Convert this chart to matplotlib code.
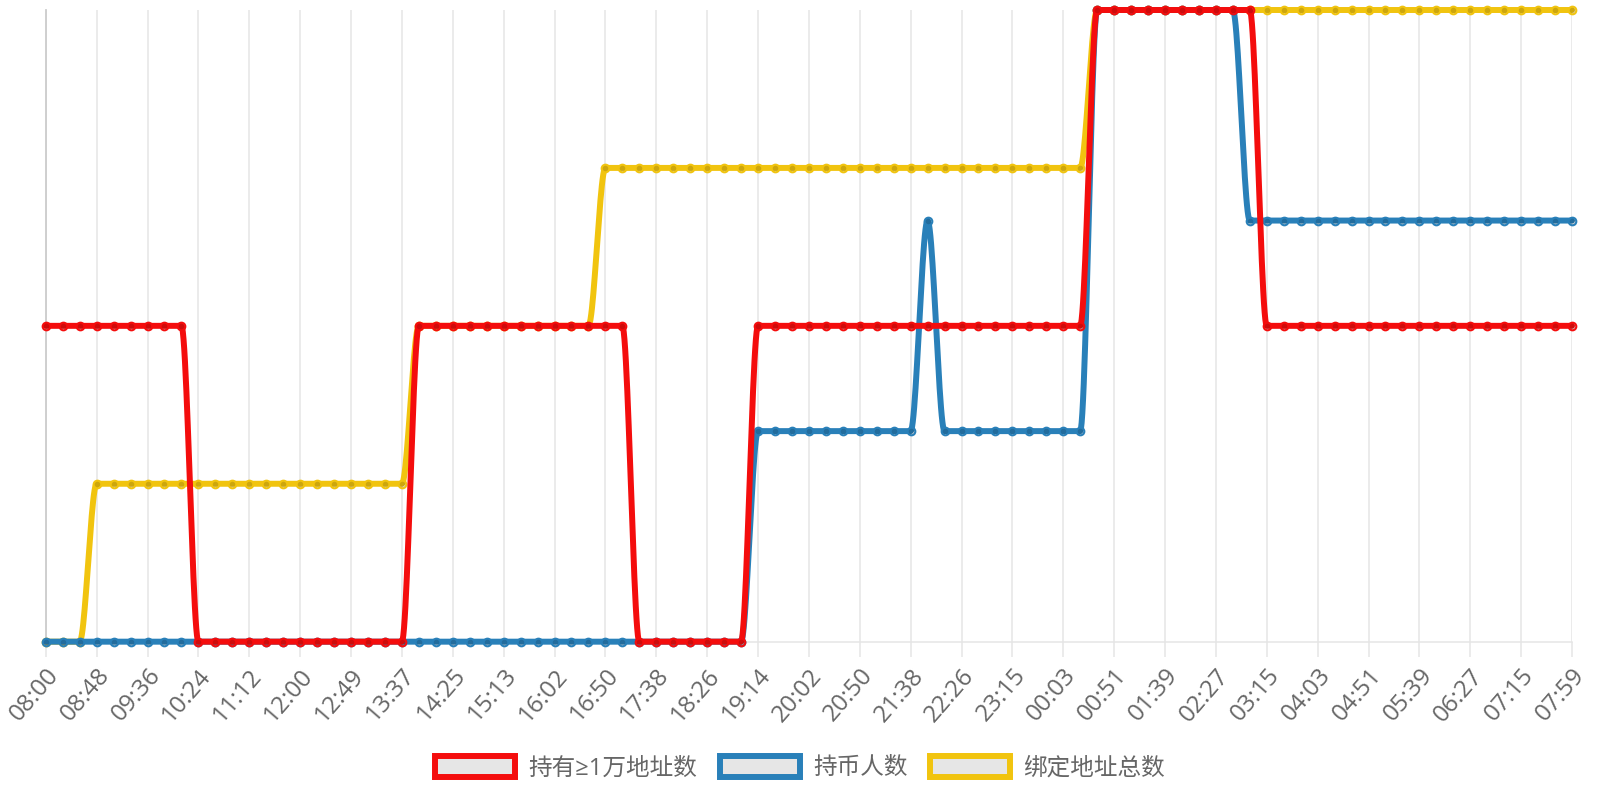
import numpy as np
import matplotlib
matplotlib.use('Agg')
import matplotlib.pyplot as plt
from matplotlib.patches import Patch

# x axis: one point every ~16 min, a label every 3rd point
tick_labels = ['08:00', '08:48', '09:36', '10:24', '11:12', '12:00', '12:49', '13:37',
               '14:25', '15:13', '16:02', '16:50', '17:38', '18:26', '19:14', '20:02',
               '20:50', '21:38', '22:26', '23:15', '00:03', '00:51', '01:39', '02:27',
               '03:15', '04:03', '04:51', '05:39', '06:27', '07:15', '07:59']

names = ['持有≥1万地址数', '持币人数', '绑定地址总数']
colors = ['#f40d0d', '#2980b9', '#f1c40f']

red_vals = [1, 1, 1, 1, 1, 1, 1, 1, 1, 0,
            0, 0, 0, 0, 0, 0, 0, 0, 0, 0,
            0, 0, 1, 1, 1, 1, 1, 1, 1, 1,
            1, 1, 1, 1, 1, 0, 0, 0, 0, 0,
            0, 0, 1, 1, 1, 1, 1, 1, 1, 1,
            1, 1, 1, 1, 1, 1, 1, 1, 1, 1,
            1, 1, 2, 2, 2, 2, 2, 2, 2, 2,
            2, 2, 1, 1, 1, 1, 1, 1, 1, 1,
            1, 1, 1, 1, 1, 1, 1, 1, 1, 1,
            1]

blue_vals = [0, 0, 0, 0, 0, 0, 0, 0, 0, 0,
             0, 0, 0, 0, 0, 0, 0, 0, 0, 0,
             0, 0, 0, 0, 0, 0, 0, 0, 0, 0,
             0, 0, 0, 0, 0, 0, 0, 0, 0, 0,
             0, 0, 1, 1, 1, 1, 1, 1, 1, 1,
             1, 1, 2, 1, 1, 1, 1, 1, 1, 1,
             1, 1, 3, 3, 3, 3, 3, 3, 3, 3,
             3, 2, 2, 2, 2, 2, 2, 2, 2, 2,
             2, 2, 2, 2, 2, 2, 2, 2, 2, 2,
             2]

yellow_vals = [0, 0, 0, 1, 1, 1, 1, 1, 1, 1,
               1, 1, 1, 1, 1, 1, 1, 1, 1, 1,
               1, 1, 2, 2, 2, 2, 2, 2, 2, 2,
               2, 2, 2, 3, 3, 3, 3, 3, 3, 3,
               3, 3, 3, 3, 3, 3, 3, 3, 3, 3,
               3, 3, 3, 3, 3, 3, 3, 3, 3, 3,
               3, 3, 4, 4, 4, 4, 4, 4, 4, 4,
               4, 4, 4, 4, 4, 4, 4, 4, 4, 4,
               4, 4, 4, 4, 4, 4, 4, 4, 4, 4,
               4]

# each series sits on its own hidden y scale
y_max = [2, 3, 4]


def monotone_curve(y, n_sub=24):
    """Monotone cubic (Fritsch-Carlson) through equally spaced points."""
    y = np.asarray(y, float)
    n = len(y)
    d = np.diff(y)
    m = np.zeros(n)
    m[0], m[-1] = d[0], d[-1]
    for i in range(1, n - 1):
        if d[i - 1] * d[i] > 0:
            m[i] = (d[i - 1] + d[i]) / 2
    for i in range(n - 1):
        if d[i] == 0:
            m[i] = m[i + 1] = 0
            continue
        a, b = m[i] / d[i], m[i + 1] / d[i]
        s = a * a + b * b
        if s > 9:
            t = 3 / np.sqrt(s)
            m[i], m[i + 1] = t * a * d[i], t * b * d[i]
    t = np.linspace(0, 1, n_sub, endpoint=False)
    h00 = 2 * t**3 - 3 * t**2 + 1
    h10 = t**3 - 2 * t**2 + t
    h01 = -2 * t**3 + 3 * t**2
    h11 = t**3 - t**2
    xs, ys = [], []
    for i in range(n - 1):
        xs.append(i + t)
        ys.append(h00 * y[i] + h10 * m[i] + h01 * y[i + 1] + h11 * m[i + 1])
    xs.append([n - 1])
    ys.append([y[-1]])
    return np.concatenate(xs), np.concatenate(ys)


fig = plt.figure(figsize=(16, 8), dpi=100)
ax = fig.add_axes([0.0286, 0.1979, 0.9539, 0.7896])
ax_b = ax.twinx()
ax_r = ax.twinx()

x = np.arange(len(red_vals))
tick_pos = x[::3]

# base axis: grid, ticks, labels
ax.set_xlim(0, len(red_vals) - 1)
ax.set_xticks(tick_pos)
ax.set_xticklabels(tick_labels, family='Open Sans')
ax.set_yticks([])
ax.grid(axis='x', color='#e5e5e5', linewidth=1.1)
ax.tick_params(axis='x', length=11, width=1.1, color='#e5e5e5', pad=5,
               labelsize=17.5, labelcolor='#666666')
for lbl in ax.get_xticklabels():
    lbl.set_rotation(49)
    lbl.set_ha('right')
    lbl.set_va('top')
    lbl.set_rotation_mode('anchor')
for side in ['top', 'right']:
    ax.spines[side].set_visible(False)
ax.spines['bottom'].set_color('#e5e5e5')
ax.spines['bottom'].set_linewidth(1.1)
ax.spines['left'].set_color('#cccccc')
ax.spines['left'].set_linewidth(1.3)

for a in [ax_b, ax_r]:
    a.set_yticks([])
    for s in a.spines.values():
        s.set_visible(False)

# yellow at the bottom, red on top
series = [(ax, yellow_vals, colors[2], y_max[2]),
          (ax_b, blue_vals, colors[1], y_max[1]),
          (ax_r, red_vals, colors[0], y_max[0])]
for a, vals, c, top in series:
    a.set_ylim(0, top)
    xs, ys = monotone_curve(vals)
    a.plot(xs, ys, color=c, lw=4.3, solid_capstyle='round', solid_joinstyle='round',
           clip_on=False, zorder=2)
    a.plot(x, vals, 'o', ms=5.5, mfc=(0, 0, 0, 0.15), mec=c, mew=1.5,
           clip_on=False, zorder=3)

handles = [Patch(facecolor='#e6e6e6', edgecolor=c, linewidth=4.3) for c in colors]
fig.legend(handles, names, loc='center', bbox_to_anchor=(0.5, 0.04), ncol=3,
           frameon=False, handlelength=3.4, handleheight=1.0, handletextpad=0.55,
           columnspacing=0.95, labelcolor='#666666',
           prop=dict(family=['Open Sans', 'Noto Sans CJK SC'], size=17))

fig.savefig('out.png', dpi=100)
